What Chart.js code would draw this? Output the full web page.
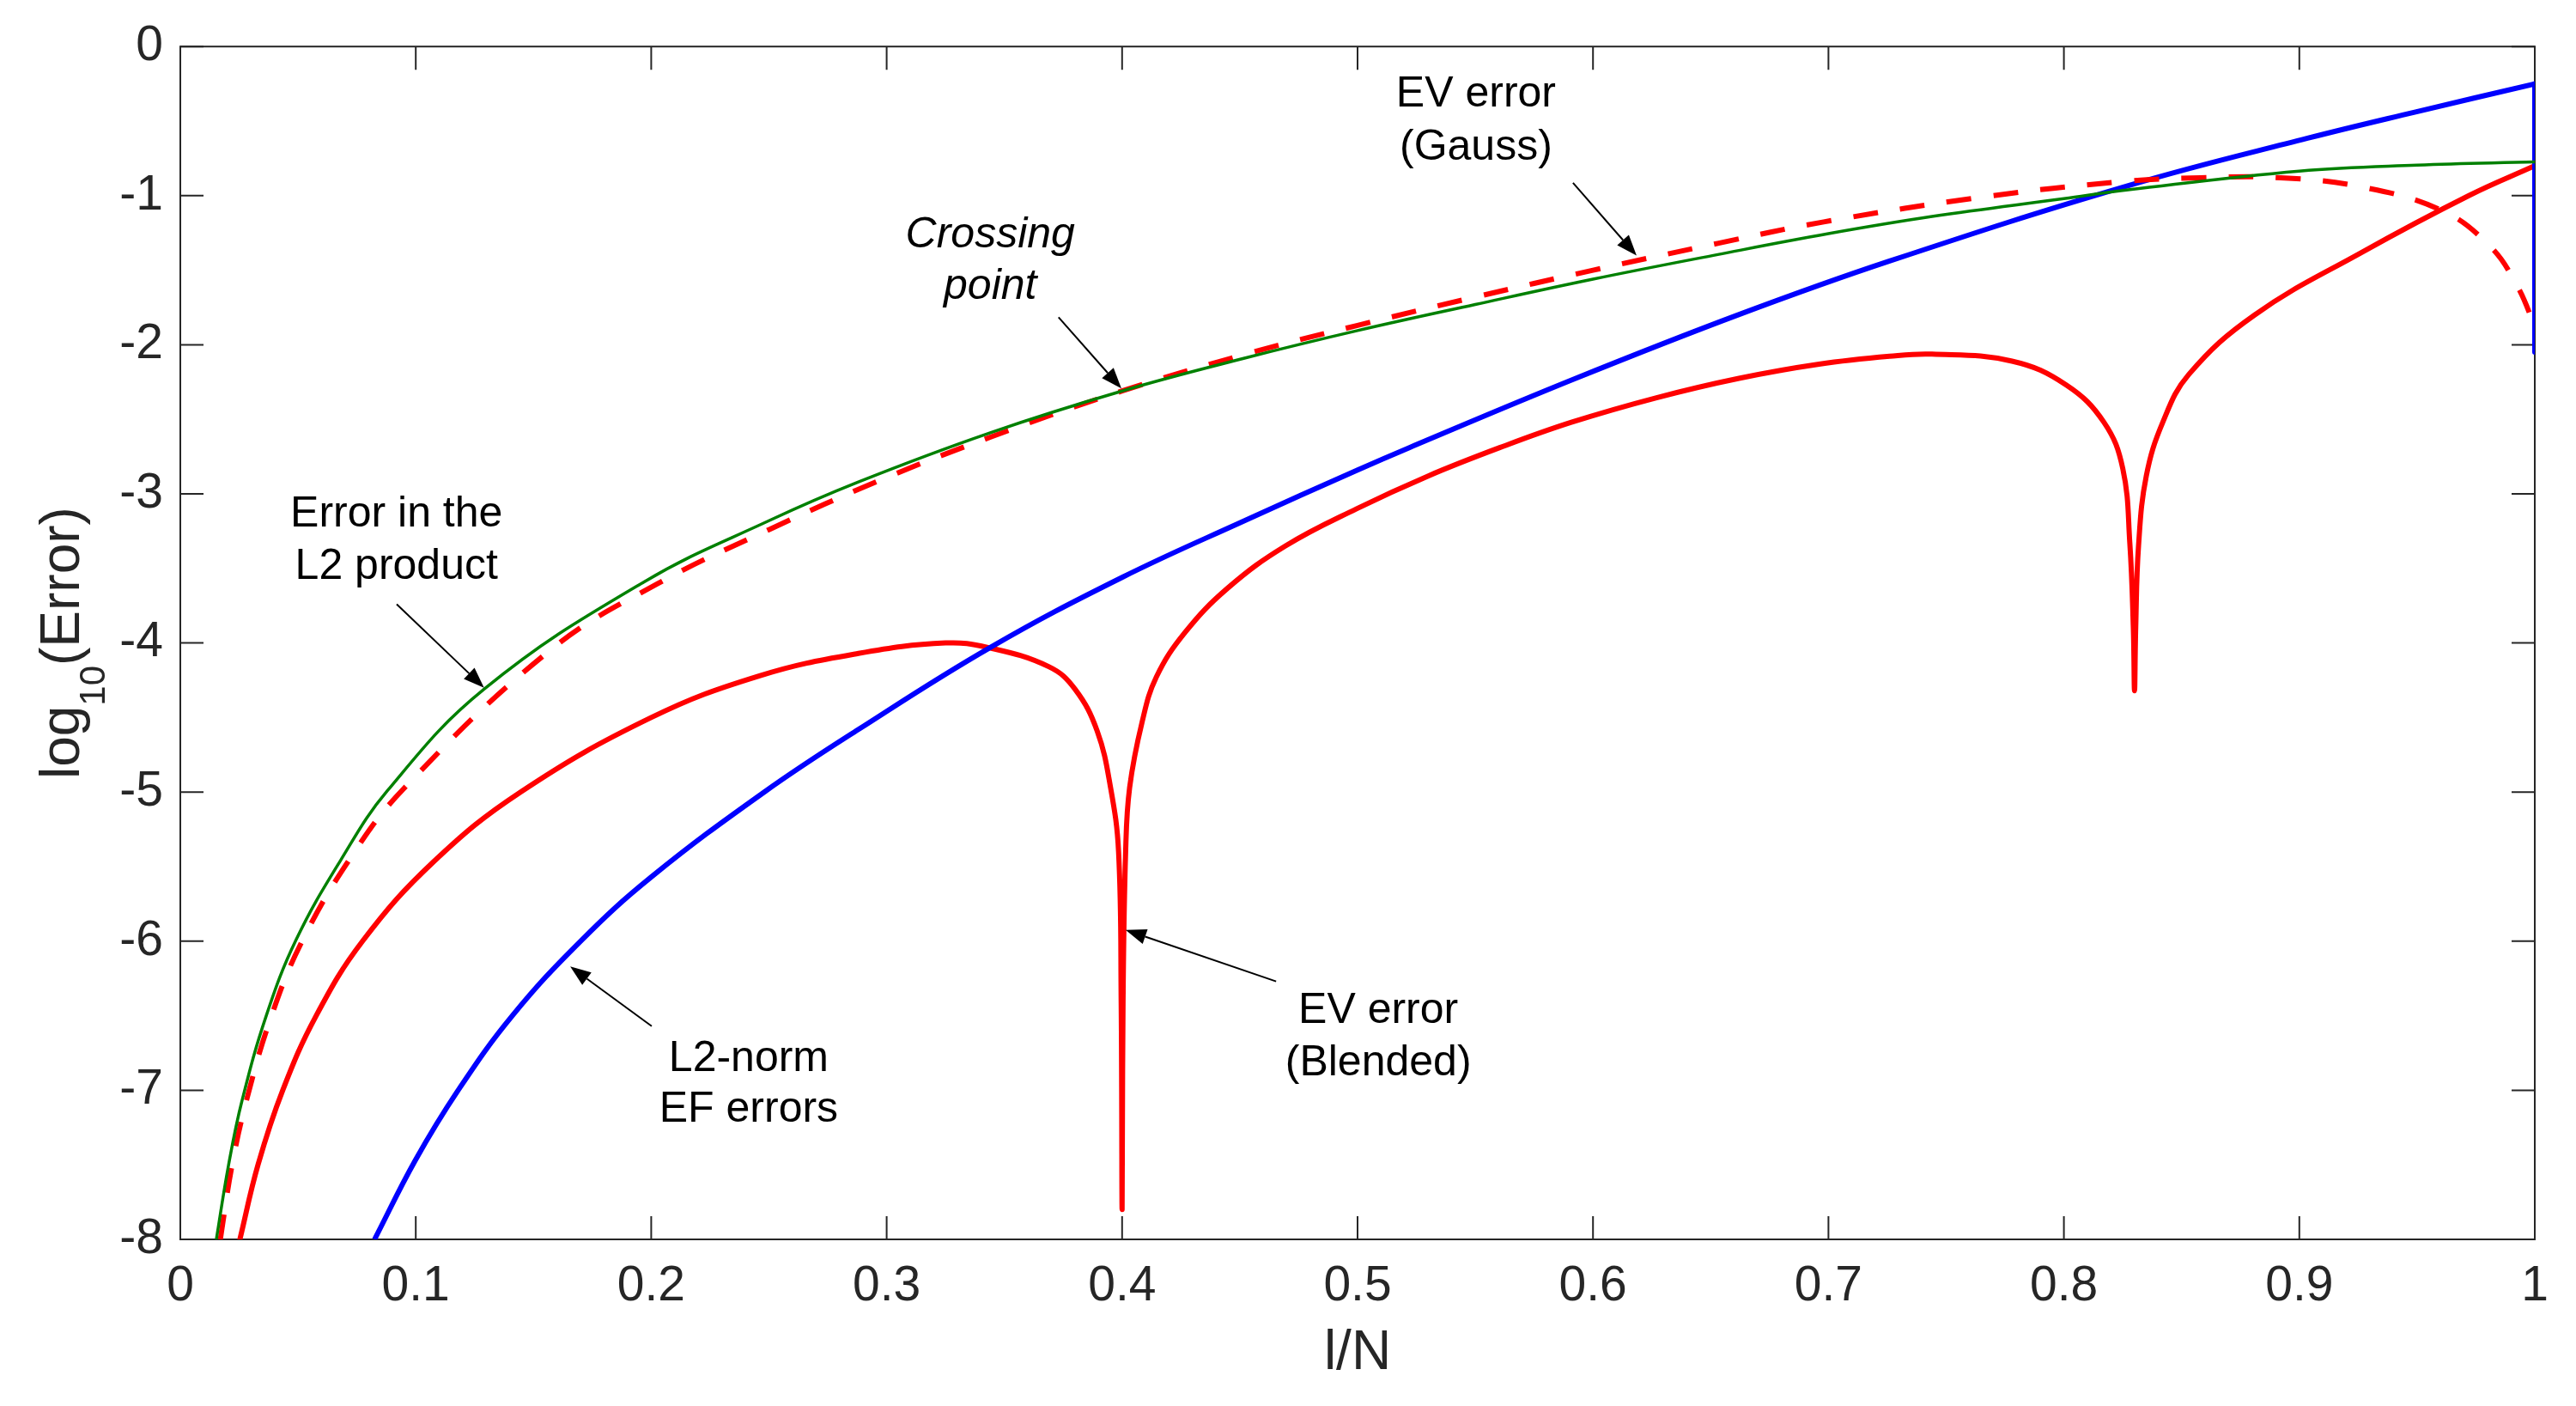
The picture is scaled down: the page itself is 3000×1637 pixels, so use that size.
<!DOCTYPE html>
<html>
<head>
<meta charset="utf-8">
<title>log10(Error) against l/N</title>
<script src="https://cdn.jsdelivr.net/npm/chart.js@4.4.1/dist/chart.umd.min.js"></script>
<style>
  html, body { margin: 0; padding: 0; background: #ffffff; }
  #wrap { position: relative; width: 3000px; height: 1637px; }
</style>
</head>
<body>
<div id="wrap"><canvas id="errChart"></canvas></div>
<script>
/* ------------------------------------------------------------------ */
/*  Data                                         */
/* ------------------------------------------------------------------ */

const xTicks      = [0, 0.1, 0.2, 0.3, 0.4, 0.5, 0.6, 0.7, 0.8, 0.9, 1];
const xTickLabels = ['0', '0.1', '0.2', '0.3', '0.4', '0.5', '0.6', '0.7', '0.8', '0.9', '1'];
const yTicks      = [0, -1, -2, -3, -4, -5, -6, -7, -8];
const yTickLabels = ['0', '-1', '-2', '-3', '-4', '-5', '-6', '-7', '-8'];

/* Error in the L2 product (green) */
const l2ProductX = [0.0153, 0.0205, 0.0262, 0.0365, 0.0492, 0.068, 0.088, 0.129, 0.197, 0.25,
                    0.288, 0.344, 0.4, 0.452, 0.5, 0.55, 0.6, 0.653, 0.7, 0.744,
                    0.8, 0.828, 0.9, 0.95, 1.0];
const l2ProductY = [-8, -7.5, -7.07, -6.5, -5.99, -5.46, -4.99, -4.31, -3.59, -3.18,
                    -2.92, -2.59, -2.31, -2.09, -1.905, -1.73, -1.56, -1.395, -1.255, -1.14,
                    -1.02, -0.96, -0.835, -0.795, -0.774];

/* EV error, Gauss (red dashed) */
const gaussX = [0.0170, 0.0220, 0.0284, 0.0383, 0.0511, 0.0715, 0.0947, 0.157, 0.203, 0.25,
                0.297, 0.344, 0.4, 0.452, 0.5, 0.55, 0.6, 0.653, 0.698, 0.767,
                0.824, 0.858, 0.892, 0.926, 0.9606, 0.981, 0.992, 0.999, 1.0];
const gaussY = [-8, -7.5, -7.05, -6.52, -6.02, -5.46, -4.98, -4.05, -3.60, -3.24,
                -2.91, -2.62, -2.31, -2.065, -1.87, -1.68, -1.50, -1.32, -1.176, -1.006,
                -0.907, -0.88, -0.88, -0.94, -1.10, -1.34, -1.59, -1.84, -1.92];

/* EV error, Blended (red solid) */
const blendedX = [0.0253, 0.033, 0.0435, 0.0577, 0.0774, 0.1074, 0.1445, 0.2, 0.246, 0.288,
                  0.325, 0.343, 0.369, 0.380, 0.3894, 0.3951, 0.3985, 0.3996, 0.400, 0.4004,
                  0.4015, 0.4032, 0.4085, 0.4145, 0.4267, 0.445, 0.4693, 0.4996, 0.530, 0.5604,
                  0.5908, 0.627, 0.662, 0.696, 0.726, 0.744, 0.778, 0.801, 0.817, 0.825,
                  0.828, 0.8295, 0.830, 0.8305, 0.8317, 0.835, 0.842, 0.853, 0.881, 0.926,
                  0.972, 1.0];
const blendedY = [-8, -7.5, -7, -6.5, -6, -5.47, -5, -4.50, -4.22, -4.07,
                  -4.00, -4.03, -4.16, -4.31, -4.59, -4.97, -5.40, -6.4, -7.80, -6.4,
                  -5.40, -4.97, -4.53, -4.23, -3.93, -3.63, -3.35, -3.10, -2.88, -2.69,
                  -2.52, -2.355, -2.225, -2.13, -2.077, -2.063, -2.11, -2.27, -2.52, -2.83,
                  -3.33, -3.9, -4.32, -3.9, -3.35, -2.88, -2.52, -2.20, -1.80, -1.385,
                  -1.0, -0.80];

/* L2-norm EF errors (blue); the last two points are the drop at l/N = 1 */
const efX = [0.0825, 0.0998, 0.118, 0.141, 0.170, 0.2, 0.248, 0.288, 0.344, 0.4,
             0.452, 0.5, 0.522, 0.592, 0.6616, 0.7257, 0.828, 0.9035, 0.949, 1.0, 1.0];
const efY = [-8, -7.47, -7, -6.5, -6, -5.57, -5.0, -4.58, -4.03, -3.56,
             -3.18, -2.84, -2.69, -2.23, -1.80, -1.44, -0.93, -0.615, -0.44, -0.25, -2.05];

/* ---- Callouts: text lines, anchor and arrow, in data units ---- */
const notes = [
  { lines: ['Error in the', 'L2 product'], x: 0.0918, y: [-3.14, -3.49], from: [0.0919, -3.74], to: [0.129, -4.30] },
  { lines: ['L2-norm', 'EF errors'],       x: 0.2414, y: [-6.79, -7.13], from: [0.2002, -6.57], to: [0.1656, -6.17] },
  { lines: ['EV error', '(Blended)'],      x: 0.5088, y: [-6.47, -6.82], from: [0.4654, -6.27], to: [0.4015, -5.925] },
  { lines: ['Crossing', 'point'],          x: 0.344,  y: [-1.264, -1.615], from: [0.373, -1.816], to: [0.3997, -2.293], italic: true },
  { lines: ['EV error', '(Gauss)'],        x: 0.5503, y: [-0.322, -0.678], from: [0.5915, -0.914], to: [0.6185, -1.402] },
];

/* ------------------------------------------------------------------ */
/*  Styling                                                            */
/* ------------------------------------------------------------------ */

const FONT       = "'Liberation Sans', Arial, Helvetica, sans-serif";
const AXIS_COLOR = '#262626';
const TICK_LEN   = 27;

function toPoints(xs, ys) {
  return xs.map((x, i) => ({ x, y: ys[i] }));
}

/* ---- Box, inward ticks and axis titles, MATLAB style ---- */
const matlabAxes = {
  id: 'matlabAxes',
  beforeDatasetsDraw(chart) {
    const { ctx, chartArea: a, scales: { x, y } } = chart;
    ctx.save();
    ctx.strokeStyle = AXIS_COLOR;
    ctx.lineWidth = 2;
    ctx.beginPath();
    for (const v of xTicks) {
      const px = x.getPixelForValue(v);
      ctx.moveTo(px, a.bottom); ctx.lineTo(px, a.bottom - TICK_LEN);
      ctx.moveTo(px, a.top);    ctx.lineTo(px, a.top + TICK_LEN);
    }
    for (const v of yTicks) {
      const py = y.getPixelForValue(v);
      ctx.moveTo(a.left, py);  ctx.lineTo(a.left + TICK_LEN, py);
      ctx.moveTo(a.right, py); ctx.lineTo(a.right - TICK_LEN, py);
    }
    ctx.stroke();
    ctx.strokeRect(a.left, a.top, a.right - a.left, a.bottom - a.top);
    ctx.restore();
  },
  afterDraw(chart) {
    const { ctx, chartArea: a } = chart;
    ctx.save();
    ctx.fillStyle = AXIS_COLOR;

    /* x title */
    ctx.font = `64px ${FONT}`;
    ctx.textAlign = 'center';
    ctx.textBaseline = 'middle';
    ctx.fillText('l/N', (a.left + a.right) / 2, a.bottom + 133);

    /* y title with subscript */
    const main = `64px ${FONT}`;
    const sub  = `42px ${FONT}`;
    ctx.translate(a.left - 118, (a.top + a.bottom) / 2);
    ctx.rotate(-Math.PI / 2);
    ctx.textAlign = 'left';
    ctx.textBaseline = 'alphabetic';
    ctx.font = main;
    const w1 = ctx.measureText('log').width;
    const w3 = ctx.measureText('(Error)').width;
    ctx.font = sub;
    const w2 = ctx.measureText('10').width;
    const x0 = -(w1 + w2 + w3) / 2;
    ctx.font = main; ctx.fillText('log', x0, 0);
    ctx.font = sub;  ctx.fillText('10', x0 + w1, 30);
    ctx.font = main; ctx.fillText('(Error)', x0 + w1 + w2, 0);
    ctx.restore();
  },
};

/* ---- Text callouts with arrows ---- */
const callouts = {
  id: 'callouts',
  afterDatasetsDraw(chart) {
    const { ctx, scales: { x, y } } = chart;
    ctx.save();
    ctx.fillStyle = '#000000';
    ctx.strokeStyle = '#000000';
    ctx.textAlign = 'center';
    ctx.textBaseline = 'middle';
    for (const n of notes) {
      ctx.font = `${n.italic ? 'italic ' : ''}50px ${FONT}`;
      n.lines.forEach((t, i) => {
        ctx.fillText(t, x.getPixelForValue(n.x), y.getPixelForValue(n.y[i]));
      });
      const x1 = x.getPixelForValue(n.from[0]), y1 = y.getPixelForValue(n.from[1]);
      const x2 = x.getPixelForValue(n.to[0]),   y2 = y.getPixelForValue(n.to[1]);
      const ang = Math.atan2(y2 - y1, x2 - x1);
      const headLen = 24, headHalf = 9;
      const bx = x2 - headLen * Math.cos(ang), by = y2 - headLen * Math.sin(ang);
      ctx.lineWidth = 2;
      ctx.beginPath();
      ctx.moveTo(x1, y1);
      ctx.lineTo(bx, by);
      ctx.stroke();
      ctx.beginPath();
      ctx.moveTo(x2, y2);
      ctx.lineTo(bx + headHalf * Math.sin(ang), by - headHalf * Math.cos(ang));
      ctx.lineTo(bx - headHalf * Math.sin(ang), by + headHalf * Math.cos(ang));
      ctx.closePath();
      ctx.fill();
    }
    ctx.restore();
  },
};

/* ------------------------------------------------------------------ */
/*  Chart                                                              */
/* ------------------------------------------------------------------ */

const lineBase = {
  pointRadius: 0,
  fill: false,
  tension: 0.4,
  borderJoinStyle: 'round',
};

const efCurve = toPoints(efX.slice(0, -1), efY.slice(0, -1));
const efDrop  = toPoints(efX.slice(-2), efY.slice(-2));

/* first dataset is drawn on top */
const datasets = [
  { ...lineBase, label: 'Error in the L2 product', data: toPoints(l2ProductX, l2ProductY),
    borderColor: '#008000', borderWidth: 3.5 },
  { ...lineBase, label: 'EV error (Gauss)', data: toPoints(gaussX, gaussY),
    borderColor: '#ff0000', borderWidth: 6, borderDash: [29, 26] },
  { ...lineBase, label: 'L2-norm EF errors', data: efCurve,
    borderColor: '#0000ff', borderWidth: 6 },
  { ...lineBase, label: 'L2-norm EF errors (end)', data: efDrop, tension: 0,
    borderColor: '#0000ff', borderWidth: 6 },
  { ...lineBase, label: 'EV error (Blended)', data: toPoints(blendedX, blendedY),
    borderColor: '#ff0000', borderWidth: 6, borderCapStyle: 'round' },
];

const tickFont = { family: FONT, size: 57 };

new Chart(document.getElementById('errChart'), {
  type: 'line',
  data: { datasets },
  options: {
    responsive: true,
    maintainAspectRatio: false,
    devicePixelRatio: 1,
    animation: false,
    layout: { padding: { left: 0, top: 51, right: 48, bottom: 0 } },
    plugins: {
      legend: { display: false },
      tooltip: { enabled: false },
    },
    scales: {
      x: {
        type: 'linear',
        min: 0,
        max: 1,
        grid: { display: false, drawTicks: false },
        border: { display: false },
        afterBuildTicks: (s) => { s.ticks = xTicks.map((v) => ({ value: v })); },
        afterFit: (s) => { s.height = 194; },
        ticks: {
          autoSkip: false,
          maxRotation: 0,
          padding: 21,
          color: AXIS_COLOR,
          font: tickFont,
          callback: (v, i) => xTickLabels[i],
        },
      },
      y: {
        type: 'linear',
        min: -8,
        max: 0,
        grid: { display: false, drawTicks: false },
        border: { display: false },
        afterBuildTicks: (s) => { s.ticks = yTicks.map((v) => ({ value: v })); },
        afterFit: (s) => { s.width = 210; },
        ticks: {
          autoSkip: false,
          padding: 20,
          color: AXIS_COLOR,
          font: tickFont,
          callback: (v) => yTickLabels[yTicks.indexOf(v)],
        },
      },
    },
  },
  plugins: [matlabAxes, callouts],
});
</script>
</body>
</html>
